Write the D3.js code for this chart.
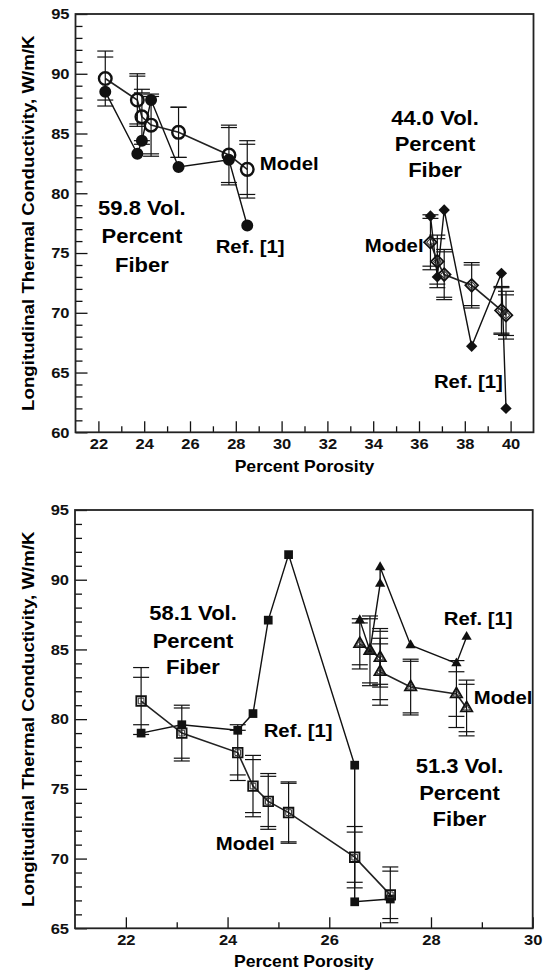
<!DOCTYPE html>
<html>
<head>
<meta charset="utf-8">
<script src="https://cdn.jsdelivr.net/npm/d3@7"></script>
<style>
body { margin: 0; background: #fff; }
svg { display: block; font-family: "Liberation Sans", Arial, sans-serif; font-weight: bold; }
</style>
</head>
<body>
<div id="chart"></div>
<script>
// ---- top panel: 59.8 vol. % fiber ----
const ref598X = [22.3, 23.7, 23.9, 24.3, 25.5, 27.7, 28.5];
const ref598Y = [88.5, 83.3, 84.4, 87.8, 82.2, 82.8, 77.3];
const mod598X = [22.3, 23.7, 23.9, 24.3, 25.5, 27.7, 28.5];
const mod598Y = [89.6, 87.8, 86.4, 85.7, 85.1, 83.2, 82.0];
const mod598ErrA = [2.3, 2.2, 2.3, 2.6, 2.1, 2.5, 2.4];
const mod598ErrB = [1.8, 2.0, 2.0, 2.4, 2.1, 2.3, 2.1];

// ---- top panel: 44.0 vol. % fiber ----
const ref440X = [36.5, 36.8, 37.1, 38.3, 39.6, 39.8];
const ref440Y = [78.1, 73.0, 78.6, 67.2, 73.3, 62.0];
const mod440X = [36.5, 36.8, 37.1, 38.3, 39.6, 39.8];
const mod440Y = [75.9, 74.3, 73.2, 72.3, 70.2, 69.8];
const mod440ErrA = [2.3, 2.2, 2.1, 1.9, 2.0, 2.0];
const mod440ErrB = [2.0, 1.9, 1.9, 1.7, 1.9, 1.7];

// ---- bottom panel: 58.1 vol. % fiber ----
const ref581X = [22.3, 23.1, 24.2, 24.5, 24.8, 25.2, 26.5, 26.5, 27.2];
const ref581Y = [79.0, 79.6, 79.2, 80.4, 87.1, 91.8, 76.7, 66.9, 67.1];
const mod581X = [22.3, 23.1, 24.2, 24.5, 24.8, 25.2, 26.5, 27.2];
const mod581Y = [81.3, 79.0, 77.6, 75.2, 74.1, 73.3, 70.1, 67.4];
const mod581ErrA = [2.4, 2.0, 2.0, 2.2, 2.0, 2.2, 2.2, 2.0];
const mod581ErrB = [1.7, 1.8, 1.6, 1.9, 1.8, 2.1, 1.8, 1.7];

// ---- bottom panel: 51.3 vol. % fiber ----
const ref513X = [26.6, 26.8, 27.0, 27.0, 27.6, 28.5, 28.7];
const ref513Y = [87.1, 84.9, 89.7, 90.9, 85.3, 84.0, 85.9];
const mod513X = [26.6, 26.8, 27.0, 27.0, 27.6, 28.5, 28.7];
const mod513Y = [85.4, 84.9, 84.4, 83.4, 82.3, 81.8, 80.8];
const mod513ErrA = [1.8, 2.5, 2.1, 2.4, 2.0, 2.4, 2.0];
const mod513ErrB = [1.5, 2.3, 1.9, 2.0, 1.85, 1.6, 1.7];

// axis ticks
const topXMajor = [22, 24, 26, 28, 30, 32, 34, 36, 38, 40];
const topXMinor = [23, 25, 27, 29, 31, 33, 35, 37, 39];
const topYMajor = [60, 65, 70, 75, 80, 85, 90, 95];
const botXMajor = [22, 24, 26, 28, 30];
const botXMinor = [23, 25, 27, 29];
const botYMajor = [65, 70, 75, 80, 85, 90, 95];

const yTitle = 'Longitudinal Thermal Conductivity, W/m/K';
const xTitle = 'Percent Porosity';

const svg = d3.select('#chart').append('svg')
    .attr('width', 544)
    .attr('height', 973);

const SX = 1.1; // font is a bit wider than Liberation Sans

function note(g, x, y, str, size, anchor) {
    g.append('text')
        .attr('transform', `translate(${x},${y}) scale(${SX},1)`)
        .attr('text-anchor', anchor || 'middle')
        .attr('dy', '0.35em')
        .attr('font-size', size)
        .text(str);
}

function drawPanel(cfg) {
    const x = d3.scaleLinear().domain(cfg.xDomain).range(cfg.xRange);
    const y = d3.scaleLinear().domain(cfg.yDomain).range(cfg.yRange);
    const g = svg.append('g');
    const [x0, x1] = cfg.xRange;
    const [y0, y1] = cfg.yRange;

    const yMinor = d3.range(cfg.yDomain[0] + 1, cfg.yDomain[1]).filter(v => v % 5 !== 0);

    const styleAxis = a => {
        a.select('.domain').remove();
        a.attr('font-family', null).attr('font-size', 15);
        a.selectAll('line').attr('stroke', '#111').attr('stroke-width', 1.3);
    };

    // minor ticks
    g.append('g').attr('transform', `translate(0,${y0})`)
        .call(d3.axisBottom(x).tickValues(cfg.xMinor).tickSize(-6).tickFormat(''))
        .call(styleAxis);
    g.append('g').attr('transform', `translate(${x0},0)`)
        .call(d3.axisLeft(y).tickValues(yMinor).tickSize(-7).tickFormat(''))
        .call(styleAxis);

    // major ticks
    g.append('g').attr('transform', `translate(0,${y0})`)
        .call(d3.axisBottom(x).tickValues(cfg.xMajor).tickSize(-11).tickPadding(6).tickFormat(d3.format('d')))
        .call(styleAxis)
        .call(a => a.selectAll('text').attr('fill', '#111').attr('transform', `scale(${SX},1)`));
    g.append('g').attr('transform', `translate(${x0},0)`)
        .call(d3.axisLeft(y).tickValues(cfg.yMajor).tickSize(-12).tickPadding(6).tickFormat(d3.format('d')))
        .call(styleAxis)
        .call(a => a.selectAll('text').attr('fill', '#111')
            .attr('x', -6 / SX).attr('transform', `scale(${SX},1)`));

    // frame
    g.append('rect')
        .attr('x', x0).attr('y', y1)
        .attr('width', x1 - x0).attr('height', y0 - y1)
        .attr('fill', 'none')
        .attr('stroke', '#222')
        .attr('stroke-width', 1.8);

    const line = d3.line().x(d => x(d[0])).y(d => y(d[1]));

    cfg.groups.forEach(grp => {
        const ref = d3.zip(grp.refX, grp.refY);
        const mod = grp.modX.map((v, i) => ({ x: v, y: grp.modY[i], a: grp.errA[i], b: grp.errB[i] }));

        g.append('path').datum(ref).attr('d', line)
            .attr('fill', 'none').attr('stroke', '#111').attr('stroke-width', 1.4);
        g.append('path').datum(mod.map(d => [d.x, d.y])).attr('d', line)
            .attr('fill', 'none').attr('stroke', '#222').attr('stroke-width', 1.6);

        // error bars on model points
        const eb = g.append('g').attr('stroke', '#111').attr('stroke-width', 1.2);
        mod.forEach(d => {
            const cx = x(d.x);
            eb.append('line').attr('x1', cx).attr('x2', cx)
                .attr('y1', y(d.y - d.a)).attr('y2', y(d.y + d.a));
            [d.y - d.a, d.y + d.a, d.y - d.b, d.y + d.b].forEach(v => {
                eb.append('line').attr('x1', cx - 8).attr('x2', cx + 8)
                    .attr('y1', y(v)).attr('y2', y(v));
            });
        });

        const rot = grp.rotate ? ' rotate(45)' : '';

        // reference data (filled)
        g.append('g').selectAll('path').data(ref).join('path')
            .attr('transform', d => `translate(${x(d[0])},${y(d[1])})${rot}`)
            .attr('d', d3.symbol(grp.shape, grp.refSize))
            .attr('fill', '#111');

        // model (open, doubled outline)
        g.append('g').selectAll('path').data(mod).join('path')
            .attr('transform', d => `translate(${x(d.x)},${y(d.y)})${rot}`)
            .attr('d', d3.symbol(grp.shape, grp.modSize))
            .attr('fill', 'none').attr('stroke', '#111').attr('stroke-width', grp.modStroke || 1.8);
        if (grp.inner !== false) {
            g.append('g').selectAll('path').data(mod).join('path')
                .attr('transform', d => `translate(${x(d.x)},${y(d.y)})${rot}`)
                .attr('d', d3.symbol(grp.shape, grp.modSize * 0.35))
                .attr('fill', 'none').attr('stroke', '#333').attr('stroke-width', 1);
        }
    });

    cfg.notes.forEach(n => note(g, x(n.x), y(n.y), n.t, n.size, n.anchor));

    // axis titles
    const cy = (y0 + y1) / 2;
    g.append('text')
        .attr('transform', `translate(28,${cy}) rotate(-90) scale(${SX},1)`)
        .attr('text-anchor', 'middle').attr('dy', '0.35em')
        .attr('font-size', 17).text(yTitle);
    note(g, (x0 + x1) / 2, cfg.xTitleY, xTitle, 16);
}

drawPanel({
    xDomain: [21, 41], xRange: [75.5, 533.5],
    yDomain: [60, 95], yRange: [432.3, 14],
    xMajor: topXMajor, xMinor: topXMinor, yMajor: topYMajor,
    xTitleY: 466.5,
    groups: [
        { refX: ref598X, refY: ref598Y, modX: mod598X, modY: mod598Y, errA: mod598ErrA, errB: mod598ErrB,
          shape: d3.symbolCircle, refSize: 113, modSize: 125, modStroke: 2.4, inner: false },
        { refX: ref440X, refY: ref440Y, modX: mod440X, modY: mod440Y, errA: mod440ErrA, errB: mod440ErrB,
          shape: d3.symbolSquare, refSize: 64, modSize: 80, rotate: true }
    ],
    notes: [
        { t: '59.8 Vol.', x: 23.9, y: 78.8, size: 20 },
        { t: 'Percent', x: 23.9, y: 76.4, size: 20 },
        { t: 'Fiber', x: 23.9, y: 74.0, size: 20 },
        { t: 'Model', x: 29.05, y: 82.45, size: 18.5, anchor: 'start' },
        { t: 'Ref. [1]', x: 27.12, y: 75.55, size: 18.5, anchor: 'start' },
        { t: '44.0 Vol.', x: 36.7, y: 86.3, size: 20 },
        { t: 'Percent', x: 36.7, y: 84.13, size: 20 },
        { t: 'Fiber', x: 36.7, y: 81.96, size: 20 },
        { t: 'Model', x: 36.2, y: 75.6, size: 18.5, anchor: 'end' },
        { t: 'Ref. [1]', x: 36.65, y: 64.26, size: 18.5, anchor: 'start' }
    ]
});

drawPanel({
    xDomain: [21, 30], xRange: [75, 532.7],
    yDomain: [65, 95], yRange: [928.3, 510],
    xMajor: botXMajor, xMinor: botXMinor, yMajor: botYMajor,
    xTitleY: 961.7,
    groups: [
        { refX: ref581X, refY: ref581Y, modX: mod581X, modY: mod581Y, errA: mod581ErrA, errB: mod581ErrB,
          shape: d3.symbolSquare, refSize: 76, modSize: 92 },
        { refX: ref513X, refY: ref513Y, modX: mod513X, modY: mod513Y, errA: mod513ErrA, errB: mod513ErrB,
          shape: d3.symbolTriangle, refSize: 46, modSize: 56 }
    ],
    notes: [
        { t: '58.1 Vol.', x: 23.32, y: 87.63, size: 20 },
        { t: 'Percent', x: 23.32, y: 85.62, size: 20 },
        { t: 'Fiber', x: 23.32, y: 83.72, size: 20 },
        { t: 'Ref. [1]', x: 24.71, y: 79.22, size: 18.5, anchor: 'start' },
        { t: 'Model', x: 23.77, y: 71.1, size: 18.5, anchor: 'start' },
        { t: 'Ref. [1]', x: 28.25, y: 87.23, size: 18.5, anchor: 'start' },
        { t: 'Model', x: 28.84, y: 81.56, size: 18.5, anchor: 'start' },
        { t: '51.3 Vol.', x: 28.56, y: 76.64, size: 20 },
        { t: 'Percent', x: 28.56, y: 74.72, size: 20 },
        { t: 'Fiber', x: 28.56, y: 72.81, size: 20 }
    ]
});
</script>
</body>
</html>
